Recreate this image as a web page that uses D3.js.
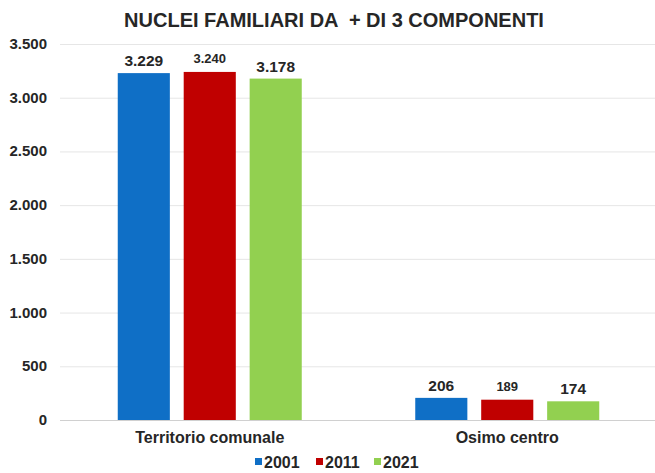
<!DOCTYPE html>
<html><head><meta charset="utf-8">
<script src="https://cdn.jsdelivr.net/npm/d3@7"></script>
<style>
html,body{margin:0;padding:0;background:#fff;}
text{font-family:"Liberation Sans",Arial,sans-serif;font-weight:bold;fill:#262626;white-space:pre;}
</style></head>
<body><svg id="chart" width="655" height="473"></svg>
<script>
const title = "NUCLEI FAMILIARI DA  + DI 3 COMPONENTI";
const categories = ["Territorio comunale", "Osimo centro"];
const seriesNames = ["2001", "2011", "2021"];
const values2001 = [3229, 206];
const values2011 = [3240, 189];
const values2021 = [3178, 174];
const valueLabels2001 = ["3.229", "206"];
const valueLabels2011 = ["3.240", "189"];
const valueLabels2021 = ["3.178", "174"];
const yTicks = [0, 500, 1000, 1500, 2000, 2500, 3000, 3500];
const yTickLabels = ["0", "500", "1.000", "1.500", "2.000", "2.500", "3.000", "3.500"];
const colors = ["#0f6fc6", "#c00000", "#92d050"];

(function(){
const series = [
  {name: seriesNames[0], values: values2001, labels: valueLabels2001, color: colors[0], small: false},
  {name: seriesNames[1], values: values2011, labels: valueLabels2011, color: colors[1], small: true},
  {name: seriesNames[2], values: values2021, labels: valueLabels2021, color: colors[2], small: false}
];

const svg = d3.select("#chart");
const mLeft = 61, mRight = 656, mTop = 44, mBottom = 420;

const x0 = d3.scaleBand().domain(categories).range([mLeft, mRight]).paddingInner(0).paddingOuter(0);
const x1 = d3.scaleBand().domain(seriesNames).range([0, 184]).paddingInner(0.21).paddingOuter(0);
const y = d3.scaleLinear().domain([0, 3500]).range([mBottom, mTop]);

// gridlines
svg.append("g").selectAll("line").data(yTicks).join("line")
  .attr("x1", mLeft - 1).attr("x2", 655)
  .attr("y1", d => y(d) + 0.5).attr("y2", d => y(d) + 0.5)
  .attr("stroke", d => d === 0 ? "#d0d0d0" : "#e6e6e6").attr("stroke-width", 1);

// y labels
svg.append("g").selectAll("text").data(yTicks).join("text")
  .attr("x", 47).attr("y", d => y(d) + 5)
  .attr("text-anchor", "end").attr("font-size", 15)
  .text((d, i) => yTickLabels[i]);

// bars
const groupOffset = (c) => x0(c) + (x0.bandwidth() - 184) / 2;
series.forEach(s => {
  const g = svg.append("g");
  g.selectAll("rect").data(categories).join("rect")
    .attr("x", (c) => groupOffset(c) + x1(s.name))
    .attr("width", x1.bandwidth())
    .attr("y", (c, i) => y(s.values[i]))
    .attr("height", (c, i) => mBottom - y(s.values[i]))
    .attr("fill", s.color);
  g.selectAll("text").data(categories).join("text")
    .attr("x", (c) => groupOffset(c) + x1(s.name) + x1.bandwidth() / 2)
    .attr("y", (c, i) => y(s.values[i]) - (s.small ? 9 : 7))
    .attr("text-anchor", "middle")
    .attr("font-size", s.small ? 13 : 15.5)
    .text((c, i) => s.labels[i]);
});

// category labels
svg.append("g").selectAll("text").data(categories).join("text")
  .attr("x", c => x0(c) + x0.bandwidth() / 2)
  .attr("y", 443)
  .attr("text-anchor", "middle").attr("font-size", 16)
  .text(c => c);

// title
svg.append("text").attr("x", 334).attr("y", 27)
  .attr("text-anchor", "middle").attr("font-size", 20)
  .text(title);

// legend
const legendX = [255, 316, 374];
const lg = svg.append("g");
series.forEach((s, i) => {
  lg.append("rect").attr("x", legendX[i]).attr("y", 458).attr("width", 7).attr("height", 7).attr("fill", s.color);
  lg.append("text").attr("x", legendX[i] + 9).attr("y", 468).attr("font-size", 16).text(s.name);
});
})();
</script></body></html>
